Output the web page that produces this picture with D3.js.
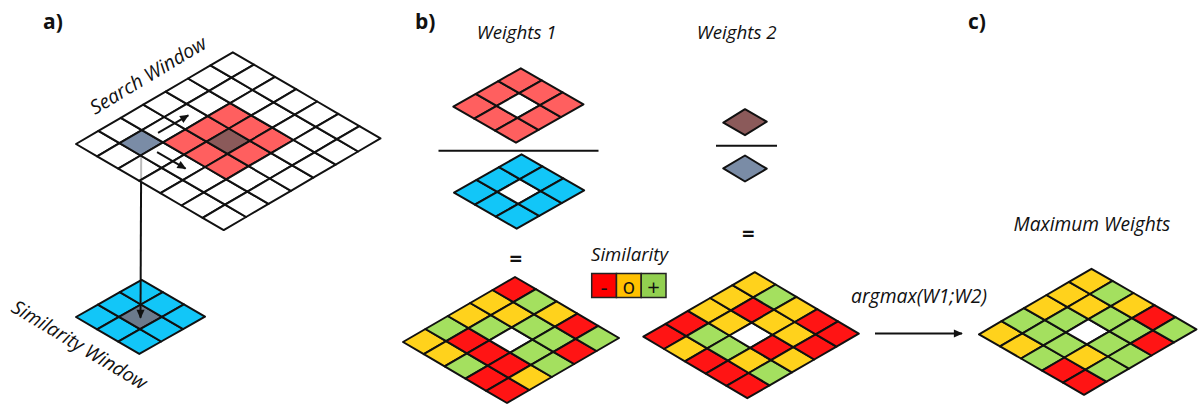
<!DOCTYPE html>
<html>
<head>
<meta charset="utf-8">
<script src="https://cdn.jsdelivr.net/npm/d3@7"></script>
<style>
  html, body { margin: 0; padding: 0; background: #fff; }
  svg { display: block; font-family: "Open Sans", "DejaVu Sans", sans-serif; }
</style>
</head>
<body>
<svg id="fig" width="1200" height="406"></svg>
<script>
// ---------- data ----------
// Similarity classes, lowest to highest
const simLevels = ["-", "o", "+"];
const simColors = ["#ff1414", "#ffd21c", "#a4e05f"];
const legendColors = ["#ff0000", "#ffc000", "#92d050"];

// Per-neighbour similarity in the 5x5 neighbourhood.
// Rows run down-right from the upper-left edge, columns run up-right from the left corner.
// null marks the centre pixel.
const weights1Sim = [
  ["o", "+", "o", "o", "-"],
  ["o", "-", "+", "o", "+"],
  ["+", "-", null, "+", "o"],
  ["-", "-", "+", "+", "-"],
  ["-", "o", "+", "-", "+"]
];
const weights2Sim = [
  ["-", "-", "o", "o", "o"],
  ["o", "+", "o", "-", "+"],
  ["-", "+", null, "o", "o"],
  ["-", "o", "-", "o", "-"],
  ["-", "+", "o", "-", "-"]
];
const maxWeightsSim = [
  ["o", "+", "o", "o", "o"],
  ["o", "+", "+", "o", "+"],
  ["+", "+", null, "+", "o"],
  ["-", "o", "+", "+", "-"],
  ["-", "+", "+", "-", "+"]
];

// Search window (cells), the pixel being filtered and the compared patch
const searchSize = 7;
const pixelCell = [1, 1];
const patchCentre = [3, 3];
const patchRadius = 1;
// Shift arrows inside the search window, in [row, col] cell units
const shiftArrows = [
  [[1.5, 2.25], [1.5, 3.6]],
  [[2.25, 1.5], [3.6, 1.5]]
];

const panelLabels = ["a)", "b)", "c)"];
const titles = ["Weights 1", "Weights 2", "Similarity", "argmax(W1;W2)", "Maximum Weights"];
const windowLabels = ["Search Window", "Similarity Window"];

// ---------- palette ----------
const C = {
  ink: "#111",
  patch: "#ff5f5f",
  patchCentre: "#8b5a5a",
  sim: "#12c6f8",
  pixel: "#7a8ca6",
  pixelDark: "#6b7a8c"
};

// ---------- layout (isometric grids) ----------
const layout = {
  search: { origin: [76, 144],    a: [22.4, -13.1], b: [21.1, 12.3] },
  simWin: { origin: [76, 317],    a: [21.9, -12.4], b: [21.1, 12.3] },
  w1Num:  { origin: [453.3, 106.7], a: [22.5, -12.8], b: [20.9, 12.0] },
  w1Den:  { origin: [454, 192.7], a: [22.5, -12.8], b: [20.9, 12.0] },
  w2Num:  { origin: [723.3, 122.7], a: [21.7, -13.5], b: [21.7, 12.5] },
  w2Den:  { origin: [723.3, 168.3], a: [21.7, -12.8], b: [21.7, 13.2] },
  res1:   { origin: [403, 342],   a: [22.4, -13.0], b: [20.8, 12.2] },
  res2:   { origin: [643.3, 336.7], a: [22.3, -12.9], b: [20.8, 12.3] },
  resMax: { origin: [979, 334.3], a: [22.5, -13.1], b: [21.0, 12.1] }
};

const svg = d3.select("#fig");
const simColor = d3.scaleOrdinal().domain(simLevels).range(simColors);
const legendColor = d3.scaleOrdinal().domain(simLevels).range(legendColors);

// arrowhead marker
svg.append("defs").append("marker")
  .attr("id", "head")
  .attr("viewBox", "0 0 10 10")
  .attr("refX", 9).attr("refY", 5)
  .attr("markerUnits", "userSpaceOnUse")
  .attr("markerWidth", 10).attr("markerHeight", 9)
  .attr("orient", "auto")
  .append("path").attr("d", "M0,0.5 L10,5 L0,9.5 Z").attr("fill", C.ink);

// vector-valued linear scale along one grid axis
function axisScale(n, v) {
  return d3.scaleLinear().domain([0, n]).range([[0, 0], [v[0] * n, v[1] * n]]);
}

function gridMapper(spec, rows, cols) {
  const sc = axisScale(cols, spec.a), sr = axisScale(rows, spec.b);
  return (r, c) => {
    const u = sc(c), v = sr(r);
    return [spec.origin[0] + u[0] + v[0], spec.origin[1] + u[1] + v[1]];
  };
}

function drawGrid(parent, spec, rows, cols, fill, opacity) {
  const pt = gridMapper(spec, rows, cols);
  const cells = d3.cross(d3.range(rows), d3.range(cols), (r, c) => ({ r, c }));
  const g = parent.append("g");
  g.selectAll("path").data(cells).join("path")
    .attr("d", d => d3.line()([pt(d.r, d.c), pt(d.r, d.c + 1), pt(d.r + 1, d.c + 1), pt(d.r + 1, d.c)]) + "Z")
    .attr("fill", d => fill(d.r, d.c))
    .attr("fill-opacity", d => opacity ? opacity(d.r, d.c) : 1)
    .attr("stroke", C.ink)
    .attr("stroke-width", 2)
    .attr("stroke-linejoin", "round");
  return pt;
}

function fitText(sel, width) {
  const len = sel.node().getComputedTextLength();
  const fs = parseFloat(sel.attr("font-size"));
  sel.attr("font-size", (fs * width / len).toFixed(2));
  return sel;
}

// ---------- panel a ----------
// similarity window (3x3) around the pixel
const simPt = drawGrid(svg, layout.simWin, 3, 3,
  (r, c) => (r === 1 && c === 1) ? C.pixelDark : C.sim);

// link from the pixel in the search window down to the similarity window
const searchPt = gridMapper(layout.search, searchSize, searchSize);
const pFrom = searchPt(pixelCell[0] + 0.5, pixelCell[1] + 0.5);
const pTo = simPt(1.5, 1.5);
svg.append("line")
  .attr("x1", pFrom[0]).attr("y1", pFrom[1])
  .attr("x2", pTo[0]).attr("y2", pTo[1] + 1)
  .attr("stroke", C.ink).attr("stroke-width", 2)
  .attr("marker-end", "url(#head)");

// search window (7x7), slightly see-through
const inPatch = (r, c) => Math.abs(r - patchCentre[0]) <= patchRadius && Math.abs(c - patchCentre[1]) <= patchRadius;
drawGrid(svg, layout.search, searchSize, searchSize,
  (r, c) => {
    if (r === pixelCell[0] && c === pixelCell[1]) return C.pixel;
    if (r === patchCentre[0] && c === patchCentre[1]) return C.patchCentre;
    if (inPatch(r, c)) return C.patch;
    return "#fff";
  },
  (r, c) => (inPatch(r, c) || (r === pixelCell[0] && c === pixelCell[1])) ? 1 : 0.72);

// shift arrows
svg.append("g").selectAll("line").data(shiftArrows).join("line")
  .attr("x1", d => searchPt(...d[0])[0]).attr("y1", d => searchPt(...d[0])[1])
  .attr("x2", d => searchPt(...d[1])[0]).attr("y2", d => searchPt(...d[1])[1])
  .attr("stroke", C.ink).attr("stroke-width", 2)
  .attr("marker-end", "url(#head)");

// rotated window labels
fitText(svg.append("text")
  .attr("transform", "translate(95,115) rotate(-31)")
  .attr("font-size", 17).attr("font-style", "italic").attr("fill", "#111")
  .text(windowLabels[0]), 132);
fitText(svg.append("text")
  .attr("transform", "translate(10,311) rotate(31)")
  .attr("font-size", 17).attr("font-style", "italic").attr("fill", "#111")
  .text(windowLabels[1]), 154);

// ---------- panel b ----------
const ringFill = col => (r, c) => (r === 1 && c === 1) ? "#fff" : col;
drawGrid(svg, layout.w1Num, 3, 3, ringFill(C.patch));
drawGrid(svg, layout.w1Den, 3, 3, ringFill(C.sim));
drawGrid(svg, layout.w2Num, 1, 1, () => C.patchCentre);
drawGrid(svg, layout.w2Den, 1, 1, () => C.pixel);

// fraction bars
const bars = [[438.5, 598.5, 150.7], [716, 777, 145.7]];
svg.append("g").selectAll("line").data(bars).join("line")
  .attr("x1", d => d[0]).attr("x2", d => d[1])
  .attr("y1", d => d[2]).attr("y2", d => d[2])
  .attr("stroke", C.ink).attr("stroke-width", 2);

// equals signs
svg.append("g").selectAll("text").data([[515.8, 256.7], [748.3, 231.7]]).join("text")
  .attr("x", d => d[0]).attr("y", d => d[1])
  .attr("text-anchor", "middle").attr("dominant-baseline", "central")
  .attr("font-size", 22).attr("font-weight", "bold").attr("fill", "#111")
  .text("=");

const simFill = grid => (r, c) => grid[r][c] === null ? "#fff" : simColor(grid[r][c]);
drawGrid(svg, layout.res1, 5, 5, simFill(weights1Sim));
drawGrid(svg, layout.res2, 5, 5, simFill(weights2Sim));

// similarity legend
const legX = d3.scaleBand().domain(simLevels).range([591.7, 666]);
const leg = svg.append("g");
leg.selectAll("rect").data(simLevels).join("rect")
  .attr("x", d => legX(d)).attr("y", 273.5)
  .attr("width", legX.bandwidth()).attr("height", 24)
  .attr("fill", d => legendColor(d))
  .attr("stroke", "#222").attr("stroke-width", 1.5);
leg.selectAll("text").data(simLevels).join("text")
  .attr("x", d => legX(d) + legX.bandwidth() / 2).attr("y", 286)
  .attr("text-anchor", "middle").attr("dominant-baseline", "central")
  .attr("font-size", d => d === "o" ? 21 : 22).attr("fill", "#111")
  .text(d => d === "-" ? "-" : d);

// ---------- panel c ----------
svg.append("line")
  .attr("x1", 875).attr("y1", 333.5).attr("x2", 962).attr("y2", 333.5)
  .attr("stroke", C.ink).attr("stroke-width", 2)
  .attr("marker-end", "url(#head)");
drawGrid(svg, layout.resMax, 5, 5, simFill(maxWeightsSim));

// ---------- titles ----------
const titlePos = [
  [516.7, 38.5, 80], [736.7, 38.5, 80], [629.5, 260.5, 77], [919, 302.5, 136], [1092, 230.5, 157]
];
titles.forEach((t, i) => {
  const [x, y, w] = titlePos[i];
  fitText(svg.append("text")
    .attr("x", x).attr("y", y).attr("text-anchor", "middle")
    .attr("font-size", 16).attr("font-style", "italic").attr("fill", "#111")
    .text(t), w);
});

// panel letters
svg.append("g").selectAll("text").data(panelLabels).join("text")
  .attr("x", (d, i) => [43, 415, 968][i]).attr("y", 28.5)
  .attr("font-size", 21).attr("font-weight", "bold").attr("fill", "#111")
  .text(d => d);
</script>
</body>
</html>
